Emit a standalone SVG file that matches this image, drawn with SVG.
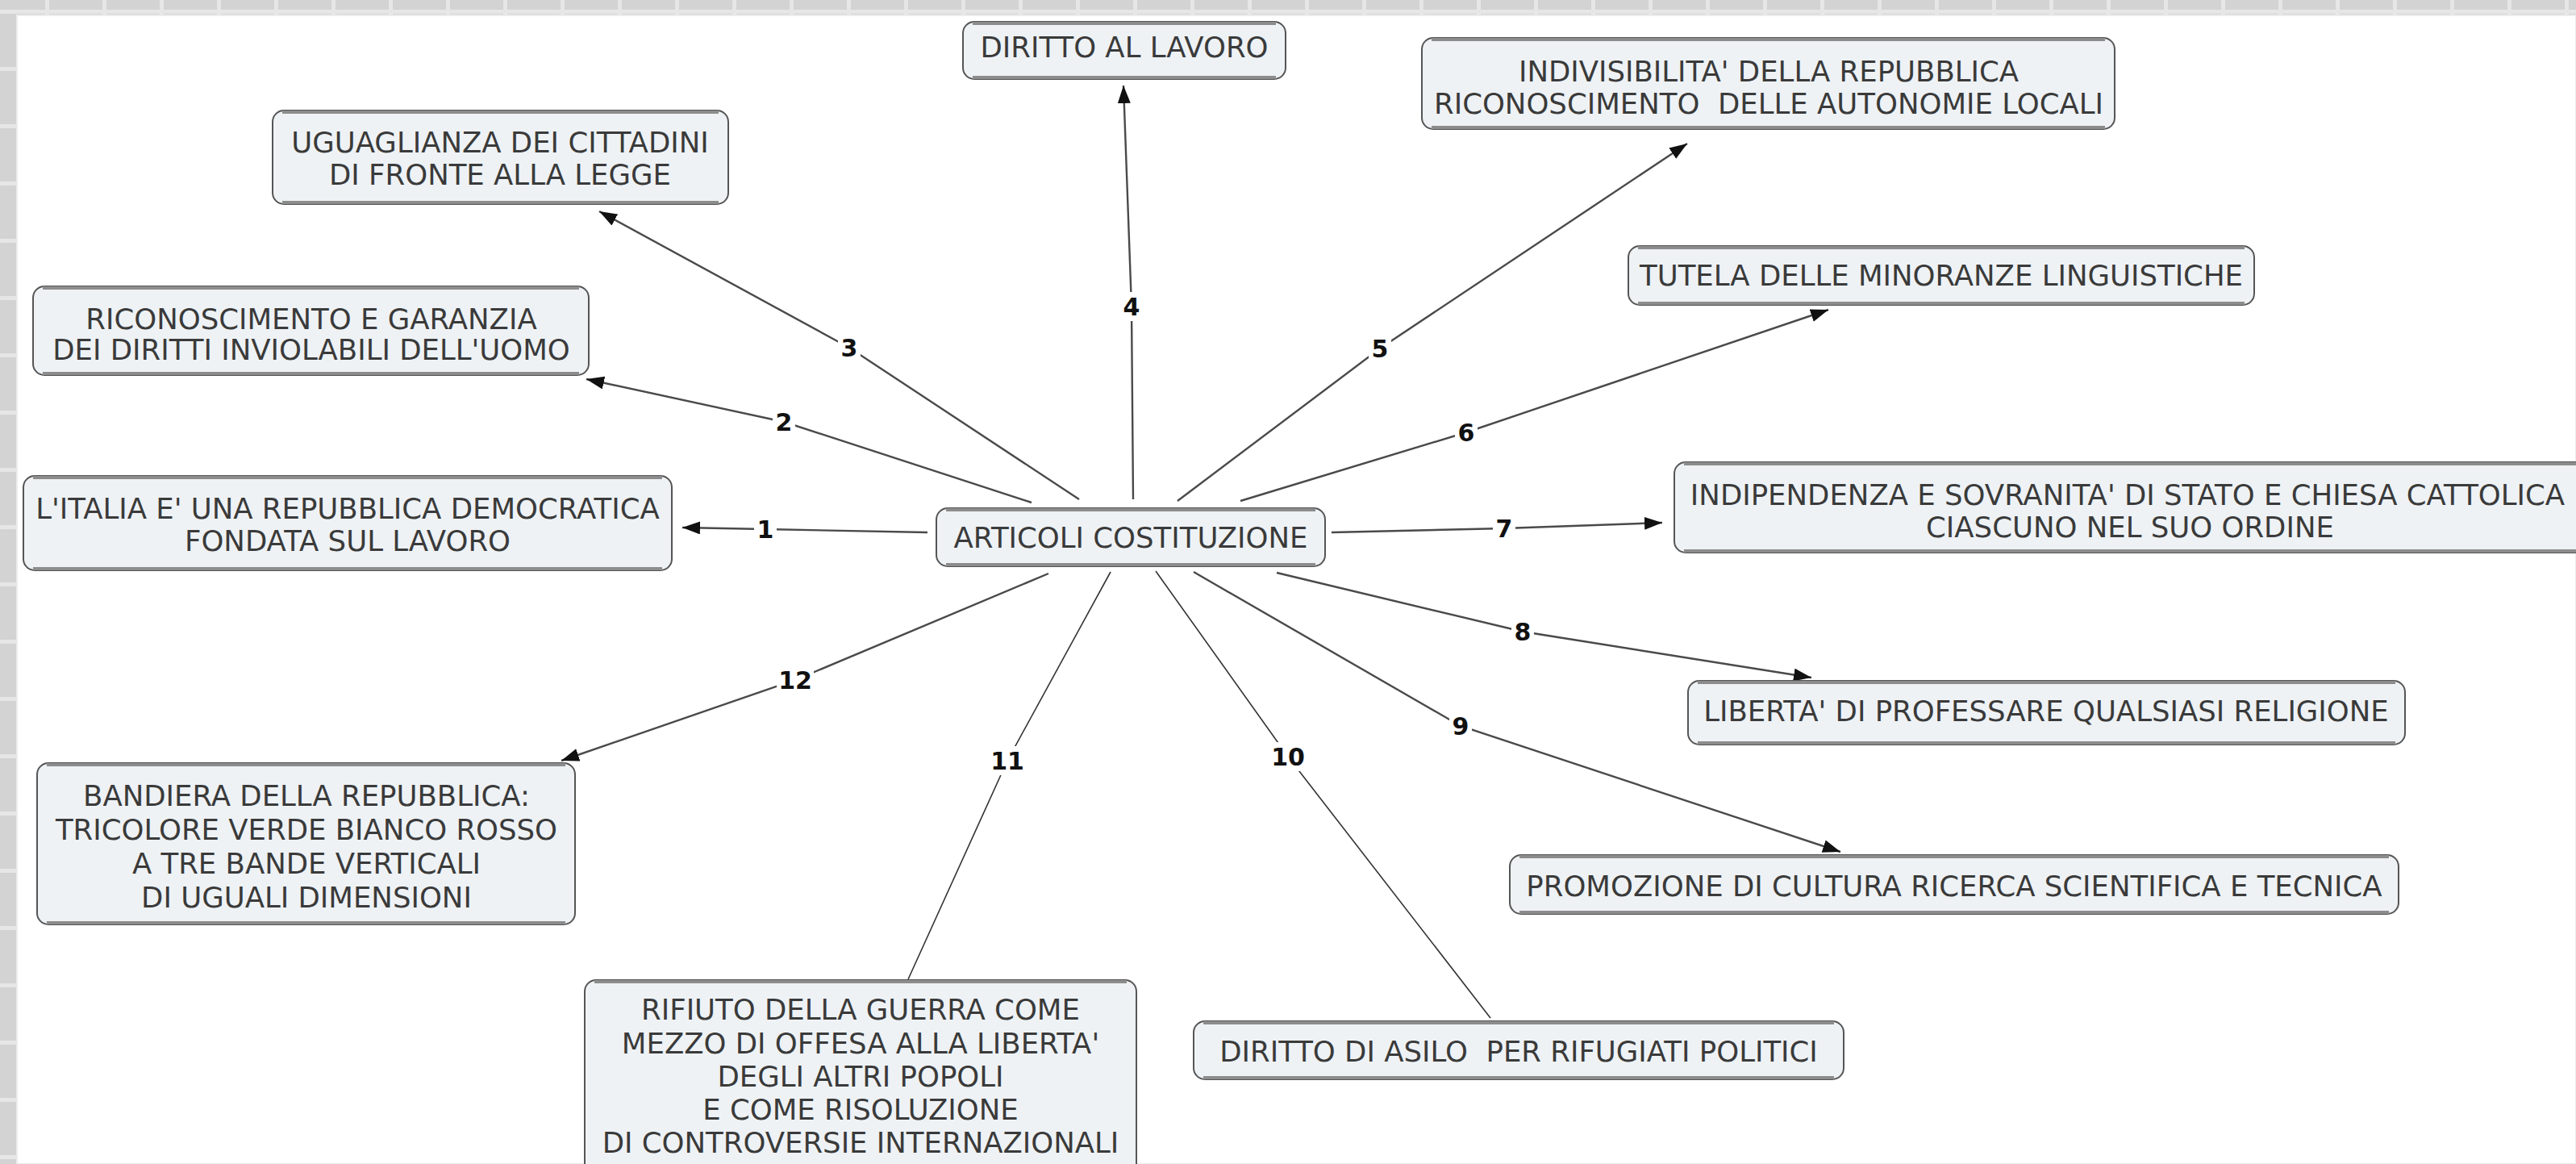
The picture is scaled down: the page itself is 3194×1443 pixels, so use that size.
<svg xmlns="http://www.w3.org/2000/svg" width="3194" height="1443" viewBox="0 0 3194 1443">
<defs>
<pattern id="grid" patternUnits="userSpaceOnUse" x="58" y="14" width="71" height="71">
<rect width="71" height="71" fill="#e6e6e6"/>
<rect x="3" y="3" width="66" height="66" fill="#d3d3d3"/>
</pattern>
<marker id="arr" markerUnits="userSpaceOnUse" markerWidth="24" markerHeight="18" refX="22" refY="8" orient="auto">
<path d="M0,0 L22,8 L0,16 z" fill="#111"/>
</marker>
</defs>
<style>
.box{fill:#eef2f5;stroke:#555;stroke-width:2}
.band{stroke:#8c8c8c;stroke-width:4}
.t{font-family:"DejaVu Sans","Verdana",sans-serif;font-size:35.5px;fill:#3a3a3a;text-anchor:middle}
.c{fill:none;stroke:#4a4a4a;stroke-width:2.4}
.thin{fill:none;stroke:#333;stroke-width:1.6}
.lb{font-family:"DejaVu Sans",sans-serif;font-weight:bold;font-size:30px;fill:#111;text-anchor:middle}
.bg{fill:#fff}
</style>
<rect width="3194" height="1443" fill="url(#grid)"/>
<rect x="21" y="19" width="3173" height="1424" fill="#fff" stroke="#ececec" stroke-width="2"/>

<g id="connectors">
<polyline class="c" points="1150,660 949,656 846,654" marker-end="url(#arr)"/>
<polyline class="c" points="1279,623 972,523 727,470" marker-end="url(#arr)"/>
<polyline class="c" points="1338,619 1053,431 743,262" marker-end="url(#arr)"/>
<polyline class="c" points="1405,619 1403,380 1393,106" marker-end="url(#arr)"/>
<polyline class="c" points="1460,621 1711,432 2092,178" marker-end="url(#arr)"/>
<polyline class="c" points="1538,621 1818,536 2267,384" marker-end="url(#arr)"/>
<polyline class="c" points="1651,660 1865,655 2061,648" marker-end="url(#arr)"/>
<polyline class="c" points="1583,710 1888,783 2246,840" marker-end="url(#arr)"/>
<polyline class="c" points="1480,709 1811,900 2282,1056" marker-end="url(#arr)"/>
<polyline class="thin" points="1433,708 1597,938 1848,1262"/>
<polyline class="thin" points="1377,709 1249,943 1126,1214"/>
<polyline class="c" points="1300,711 986,843 696,943" marker-end="url(#arr)"/>
<rect class="bg" x="935" y="638" width="28" height="36"/><text class="lb" x="949" y="667">1</text>
<rect class="bg" x="958" y="505" width="28" height="36"/><text class="lb" x="972" y="534">2</text>
<rect class="bg" x="1039" y="413" width="28" height="36"/><text class="lb" x="1053" y="442">3</text>
<rect class="bg" x="1389" y="362" width="28" height="36"/><text class="lb" x="1403" y="391">4</text>
<rect class="bg" x="1697" y="414" width="28" height="36"/><text class="lb" x="1711" y="443">5</text>
<rect class="bg" x="1804" y="518" width="28" height="36"/><text class="lb" x="1818" y="547">6</text>
<rect class="bg" x="1851" y="637" width="28" height="36"/><text class="lb" x="1865" y="666">7</text>
<rect class="bg" x="1874" y="765" width="28" height="36"/><text class="lb" x="1888" y="794">8</text>
<rect class="bg" x="1797" y="882" width="28" height="36"/><text class="lb" x="1811" y="911">9</text>
<rect class="bg" x="1574" y="920" width="46" height="36"/><text class="lb" x="1597" y="949">10</text>
<rect class="bg" x="1226" y="925" width="46" height="36"/><text class="lb" x="1249" y="954">11</text>
<rect class="bg" x="963" y="825" width="46" height="36"/><text class="lb" x="986" y="854">12</text>
</g>

<g id="n-lavoro">
<rect class="box" x="1194" y="27" width="400" height="71" rx="14"/>
<line class="band" x1="1206" y1="29" x2="1582" y2="29"/><line class="band" x1="1206" y1="96" x2="1582" y2="96"/>
<text class="t" x="1394" y="71">DIRITTO AL LAVORO</text>
</g>

<g id="n-uguaglianza">
<rect class="box" x="338" y="137" width="565" height="116" rx="14"/>
<line class="band" x1="350" y1="139" x2="891" y2="139"/><line class="band" x1="350" y1="251" x2="891" y2="251"/>
<text class="t" x="620" y="189">UGUAGLIANZA DEI CITTADINI</text>
<text class="t" x="620" y="229">DI FRONTE ALLA LEGGE</text>
</g>

<g id="n-riconoscimento">
<rect class="box" x="41" y="355" width="689" height="110" rx="14"/>
<line class="band" x1="53" y1="357" x2="718" y2="357"/><line class="band" x1="53" y1="463" x2="718" y2="463"/>
<text class="t" x="386" y="408">RICONOSCIMENTO E GARANZIA</text>
<text class="t" x="386" y="446">DEI DIRITTI INVIOLABILI DELL'UOMO</text>
</g>

<g id="n-italia">
<rect class="box" x="29" y="590" width="804" height="117" rx="14"/>
<line class="band" x1="41" y1="592" x2="821" y2="592"/><line class="band" x1="41" y1="705" x2="821" y2="705"/>
<text class="t" x="431" y="643">L'ITALIA E' UNA REPUBBLICA DEMOCRATICA</text>
<text class="t" x="431" y="683">FONDATA SUL LAVORO</text>
</g>

<g id="n-bandiera">
<rect class="box" x="46" y="946" width="667" height="200" rx="14"/>
<line class="band" x1="58" y1="948" x2="701" y2="948"/><line class="band" x1="58" y1="1144" x2="701" y2="1144"/>
<text class="t" x="380" y="999">BANDIERA DELLA REPUBBLICA:</text>
<text class="t" x="380" y="1041">TRICOLORE VERDE BIANCO ROSSO</text>
<text class="t" x="380" y="1083">A TRE BANDE VERTICALI</text>
<text class="t" x="380" y="1125">DI UGUALI DIMENSIONI</text>
</g>

<g id="n-articoli">
<rect class="box" x="1161" y="630" width="482" height="72" rx="14"/>
<line class="band" x1="1173" y1="632" x2="1631" y2="632"/><line class="band" x1="1173" y1="700" x2="1631" y2="700"/>
<text class="t" x="1402" y="679">ARTICOLI COSTITUZIONE</text>
</g>

<g id="n-indipendenza">
<rect class="box" x="2076" y="573" width="1140" height="112" rx="14"/>
<line class="band" x1="2088" y1="575" x2="3204" y2="575"/><line class="band" x1="2088" y1="683" x2="3204" y2="683"/>
<text class="t" x="2638" y="626">INDIPENDENZA E SOVRANITA' DI STATO E CHIESA CATTOLICA</text>
<text class="t" x="2641" y="666">CIASCUNO NEL SUO ORDINE</text>
</g>

<g id="n-tutela">
<rect class="box" x="2019" y="305" width="776" height="73" rx="14"/>
<line class="band" x1="2031" y1="307" x2="2783" y2="307"/><line class="band" x1="2031" y1="376" x2="2783" y2="376"/>
<text class="t" x="2407" y="354">TUTELA DELLE MINORANZE LINGUISTICHE</text>
</g>

<g id="n-indivisibilita">
<rect class="box" x="1763" y="47" width="859" height="113" rx="14"/>
<line class="band" x1="1775" y1="49" x2="2610" y2="49"/><line class="band" x1="1775" y1="158" x2="2610" y2="158"/>
<text class="t" x="2193" y="101">INDIVISIBILITA' DELLA REPUBBLICA</text>
<text class="t" x="2193" y="141" xml:space="preserve">RICONOSCIMENTO  DELLE AUTONOMIE LOCALI</text>
</g>

<g id="n-liberta">
<rect class="box" x="2093" y="844" width="889" height="79" rx="14"/>
<line class="band" x1="2105" y1="846" x2="2970" y2="846"/><line class="band" x1="2105" y1="921" x2="2970" y2="921"/>
<text class="t" x="2537" y="894">LIBERTA' DI PROFESSARE QUALSIASI RELIGIONE</text>
</g>

<g id="n-promozione">
<rect class="box" x="1872" y="1060" width="1102" height="73" rx="14"/>
<line class="band" x1="1884" y1="1062" x2="2962" y2="1062"/><line class="band" x1="1884" y1="1131" x2="2962" y2="1131"/>
<text class="t" x="2423" y="1111">PROMOZIONE DI CULTURA RICERCA SCIENTIFICA E TECNICA</text>
</g>

<g id="n-asilo">
<rect class="box" x="1480" y="1266" width="806" height="72" rx="14"/>
<line class="band" x1="1492" y1="1268" x2="2274" y2="1268"/><line class="band" x1="1492" y1="1336" x2="2274" y2="1336"/>
<text class="t" x="1883" y="1316" xml:space="preserve">DIRITTO DI ASILO  PER RIFUGIATI POLITICI</text>
</g>

<g id="n-rifiuto">
<rect class="box" x="725" y="1215" width="684" height="250" rx="14"/>
<line class="band" x1="737" y1="1217" x2="1397" y2="1217"/>
<text class="t" x="1067" y="1264">RIFIUTO DELLA GUERRA COME</text>
<text class="t" x="1067" y="1306">MEZZO DI OFFESA ALLA LIBERTA'</text>
<text class="t" x="1067" y="1347">DEGLI ALTRI POPOLI</text>
<text class="t" x="1067" y="1388">E COME RISOLUZIONE</text>
<text class="t" x="1067" y="1429">DI CONTROVERSIE INTERNAZIONALI</text>
</g>
</svg>
